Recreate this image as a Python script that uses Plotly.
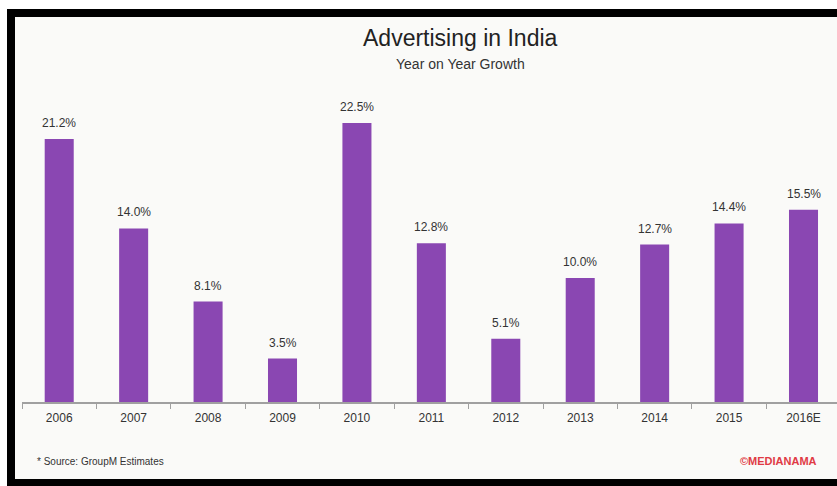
import plotly.graph_objects as go

years = ["2006", "2007", "2008", "2009", "2010", "2011", "2012", "2013", "2014", "2015", "2016E"]
growth = [21.2, 14.0, 8.1, 3.5, 22.5, 12.8, 5.1, 10.0, 12.7, 14.4, 15.5]

W, H = 837, 486
L, R, T, B = 22, 0, 17, 84
PW, PH = W - L - R, H - T - B


def px(x):
    return (x - L) / PW


def py(y):
    return (H - B - y) / PH


fig = go.Figure(
    go.Bar(
        x=years,
        y=growth,
        width=0.39,
        marker=dict(color="#8a47b2", line=dict(width=0)),
        hovertemplate="%{x}: %{y:.1f}%<extra></extra>",
    )
)

# Value labels sitting above each bar (category axis: position by index)
for i, v in enumerate(growth):
    fig.add_annotation(
        x=i, y=v, xref="x", yref="y",
        text=f"{v:.1f}%", showarrow=False,
        yanchor="middle", yshift=16,
        font=dict(family="Liberation Sans", size=12, color="#333333"),
    )

fig.update_layout(
    width=W,
    height=H,
    margin=dict(l=L, r=R, t=T, b=B),
    paper_bgcolor="#fafaf8",
    plot_bgcolor="#fafaf8",
    showlegend=False,
    xaxis=dict(
        type="category",
        range=[-0.5, 10.45],
        showline=True,
        linecolor="#a0a0a0",
        linewidth=1.5,
        ticks="outside",
        tickson="boundaries",
        ticklen=5,
        tickcolor="#a0a0a0",
        showgrid=False,
        ticklabelstandoff=4,
        tickfont=dict(family="Liberation Sans", size=12, color="#333333"),
    ),
    yaxis=dict(
        range=[0, PH / 12.4],
        visible=False,
        showgrid=False,
    ),
)


def note(x, y, text, size, color, anchor="center"):
    fig.add_annotation(
        x=px(x), y=py(y), xref="paper", yref="paper",
        xanchor=anchor, yanchor="middle",
        text=text, showarrow=False,
        font=dict(family="Liberation Sans", size=size, color=color),
    )


# Title block
note(460, 38, "Advertising in India", 23, "#222222")
note(460, 64, "Year on Year Growth", 14, "#333333")

# Footer notes
note(35, 461, "* Source: GroupM Estimates", 10, "#333333", "left")
note(819, 461, "<b>©MEDIANAMA</b>", 11, "#e03a45", "right")

# Frame around the panel
frame = [
    (0, 0, W, 9, "white"),
    (0, 0, 7, H, "white"),
    (7, 9, W, 17, "black"),
    (7, 9, 15, H, "black"),
    (7, 479, W, H, "black"),
]
for x0, y0, x1, y1, c in frame:
    fig.add_shape(
        type="rect", xref="paper", yref="paper",
        x0=px(x0), x1=px(x1), y0=py(y1), y1=py(y0),
        fillcolor=c, line=dict(width=0), layer="above",
    )

fig.write_html("out.html")
